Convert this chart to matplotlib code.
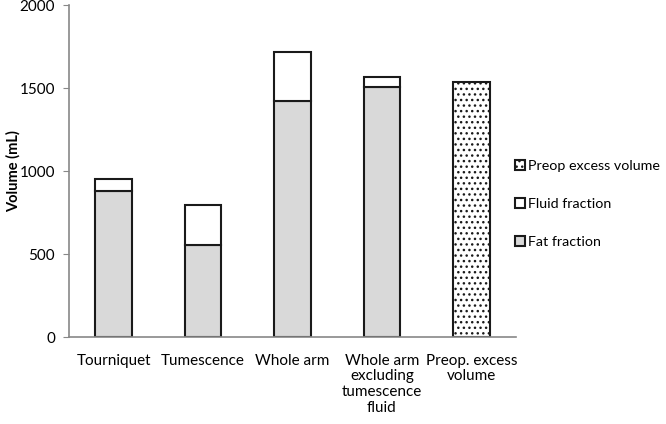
"""
Stacked volume bars: fat vs fluid fraction
"""

import matplotlib
matplotlib.use("Agg")
import matplotlib.pyplot as plt
import numpy as np

categories = ["Tourniquet", "Tumescence", "Whole arm",
              "Whole arm\nexcluding\ntumescence\nfluid", "Preop. excess\nvolume"]
fat_fraction = [880, 555, 1420, 1505, 0]
fluid_fraction = [72, 242, 300, 60, 0]
preop_excess = [0, 0, 0, 0, 1535]
yticks = [0, 500, 1000, 1500, 2000]

plt.rcParams["font.family"] = ["Lato", "DejaVu Sans"]
plt.rcParams["hatch.linewidth"] = 1.0

fig = plt.figure(figsize=(6.66, 4.24), dpi=100)
ax = fig.add_axes([0.1036, 0.205, 0.6712, 0.783])

x = np.arange(len(categories))
w = 0.41
edge = "#1a1a1a"

fat = ax.bar(x[:4], fat_fraction[:4], w, color="#d9d9d9", edgecolor=edge,
             linewidth=1.5, label="Fat fraction")
fluid = ax.bar(x[:4], fluid_fraction[:4], w, bottom=fat_fraction[:4], color="white",
               edgecolor=edge, linewidth=1.5, label="Fluid fraction")
preop = ax.bar(x[4:], preop_excess[4:], w, color="white", edgecolor=edge,
               linewidth=1.5, hatch="...", label="Preop excess volume")

ax.set_xlim(-0.5, 4.5)
ax.set_ylim(0, 2000)
ax.set_yticks(yticks)
ax.set_xticks(x)
ax.set_xticklabels(categories, fontsize=11, linespacing=1.15)
ax.tick_params(axis="x", length=0, pad=12)
ax.tick_params(axis="y", labelsize=11, color="#888888", length=4, pad=6)
ax.set_ylabel("Volume (mL)", fontsize=10.5, fontweight="bold")
ax.yaxis.set_label_coords(-0.108, 0.5)

for s in ["top", "right"]:
    ax.spines[s].set_visible(False)
for s in ["left", "bottom"]:
    ax.spines[s].set_color("#888888")
    ax.spines[s].set_linewidth(1.2)

fig.legend(handles=[preop, fluid, fat], loc="upper left",
           bbox_to_anchor=(0.764, 0.635), frameon=False, fontsize=10.3,
           handlelength=0.7, handleheight=0.7, handletextpad=0.25,
           labelspacing=1.8, borderaxespad=0)

fig.savefig("out.png", dpi=100)
